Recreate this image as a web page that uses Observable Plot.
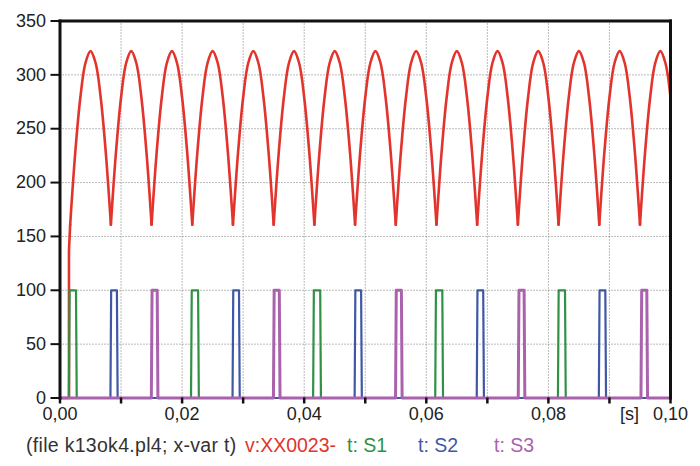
<!DOCTYPE html>
<html>
<head>
<meta charset="utf-8">
<script src="https://cdn.jsdelivr.net/npm/d3@7"></script>
<script src="https://cdn.jsdelivr.net/npm/@observablehq/plot@0.6"></script>
<style>
  html, body { margin: 0; padding: 0; background: #fff; }
  #chart { width: 700px; height: 466px; font-family: "Liberation Sans", Arial, sans-serif; }
  #legend { position: relative; width: 700px; height: 38px; font-size: 19.5px; }
  #legend span { position: absolute; top: 6px; white-space: pre; }
</style>
</head>
<body>
<div id="chart"></div>
<script>
// ---- Axis ticks and labels ----
const xTicks = [0, 0.02, 0.04, 0.06, 0.08, 0.10];
const xTickLabels = ["0,00", "0,02", "0,04", "0,06", "0,08", "0,10"];
const xMinorTicks = [0, 0.01, 0.02, 0.03, 0.04, 0.05, 0.06, 0.07, 0.08, 0.09, 0.10];
const xGridLines = [0.01, 0.02, 0.03, 0.04, 0.05, 0.06, 0.07, 0.08, 0.09];
const yTicks = [0, 50, 100, 150, 200, 250, 300, 350];
const yGridLines = [50, 100, 150, 200, 250, 300];
const xUnit = ["[s]"];

// ---- Legend ----
const fileNote = "(file k13ok4.pl4; x-var t)";
const seriesNames = ["v:XX0023-", "t: S1", "t: S2", "t: S3"];

// ---- Output voltage v:XX0023- ----
// before the first firing the output sits at 0, then jumps onto the phase voltage
const leadInT = [0, 0.00147, 0.00147];
const leadInV = [0, 0, 137];
// sampled every 1/1200 s starting at the first commutation point (t = 1.667 ms)
const voltStart = 0.0016667;
const voltStep = 1 / 1200;
const voltValues = [
  161, 228, 279, 311, 322, 311, 279, 228,
  161, 228, 279, 311, 322, 311, 279, 228,
  161, 228, 279, 311, 322, 311, 279, 228,
  161, 228, 279, 311, 322, 311, 279, 228,
  161, 228, 279, 311, 322, 311, 279, 228,
  161, 228, 279, 311, 322, 311, 279, 228,
  161, 228, 279, 311, 322, 311, 279, 228,
  161, 228, 279, 311, 322, 311, 279, 228,
  161, 228, 279, 311, 322, 311, 279, 228,
  161, 228, 279, 311, 322, 311, 279, 228,
  161, 228, 279, 311, 322, 311, 279, 228,
  161, 228, 279, 311, 322, 311, 279, 228,
  161, 228, 279, 311, 322, 311, 279, 228,
  161, 228, 279, 311, 322, 311, 279, 228,
  161, 228, 279, 311, 322, 311, 279
];
const samplesPerRipple = 8;

// ---- Gate signals (on / off instants, seconds; level 0 or 100) ----
const pulseLevel = 100;
const s1On  = [0.0015, 0.0215, 0.0415, 0.0615, 0.0816];
const s1Off = [0.0027, 0.0227, 0.0427, 0.0627, 0.0828];
const s2On  = [0.0083, 0.0283, 0.0483, 0.0683, 0.0883];
const s2Off = [0.0094, 0.0294, 0.0494, 0.0694, 0.0894];
const s3On  = [0.0150, 0.0350, 0.0550, 0.0751, 0.0952];
const s3Off = [0.0160, 0.0360, 0.0560, 0.0761, 0.0962];

// ---- Colours ----
const colors = {
  volt: "#e2342c",
  s1: "#2f9145",
  s2: "#3f58a6",
  s3: "#ab62ad",
  text: "#222",
  note: "#333",
  grid: "#777"
};

// Build the voltage table; each ripple arc is its own series so the cusps stay sharp
const voltRows = [];
voltValues.forEach((v, i) => {
  const t = voltStart + i * voltStep;
  const seg = Math.floor(i / samplesPerRipple);
  if (i > 0 && i % samplesPerRipple === 0) voltRows.push({t, v, seg: seg - 1});
  voltRows.push({t, v, seg});
});
const leadInRows = leadInT.map((t, i) => ({t, v: leadInV[i]}));
leadInRows.push({t: voltStart, v: voltValues[0]});

// Gate signal as a polyline along 0 with a short ramp on each edge
const ramp = 0.00008;
function pulseRows(on, off) {
  const rows = [{t: 0, v: 0}];
  on.forEach((t0, i) => {
    const t1 = off[i];
    rows.push({t: t0 - ramp / 2, v: 0}, {t: t0 + ramp, v: pulseLevel},
              {t: t1 - ramp, v: pulseLevel}, {t: t1 + ramp / 2, v: 0});
  });
  rows.push({t: 0.1, v: 0});
  return rows;
}

const xLabelOf = new Map(xTicks.map((d, i) => [d, xTickLabels[i]]));
const dotted = {stroke: colors.grid, strokeOpacity: 1, strokeWidth: 1, strokeDasharray: "1,2"};

const plot = Plot.plot({
  width: 700,
  height: 428,
  marginLeft: 59.5,
  marginRight: 30,
  marginTop: 20.5,
  marginBottom: 30.5,
  x: {domain: [0, 0.1]},
  y: {domain: [0, 350]},
  style: {fontFamily: '"Liberation Sans", Arial, sans-serif', fontSize: "18px", color: colors.text, background: "#fff"},
  marks: [
    Plot.gridY(yGridLines, dotted),
    Plot.gridX(xGridLines, dotted),
    Plot.line(leadInRows, {x: "t", y: "v", stroke: colors.volt, strokeWidth: 2.6}),
    Plot.line(voltRows, {x: "t", y: "v", z: "seg", curve: "catmull-rom", stroke: colors.volt, strokeWidth: 2.6}),
    Plot.line(pulseRows(s1On, s1Off), {x: "t", y: "v", stroke: colors.s1, strokeWidth: 2.2}),
    Plot.line(pulseRows(s2On, s2Off), {x: "t", y: "v", stroke: colors.s2, strokeWidth: 2.2}),
    Plot.line(pulseRows(s3On, s3Off), {x: "t", y: "v", stroke: colors.s3, strokeWidth: 3}),
    Plot.frame({stroke: "#111", strokeWidth: 3, anchor: "top"}),
    Plot.frame({stroke: "#111", strokeWidth: 3, anchor: "left"}),
    Plot.frame({stroke: "#111", strokeWidth: 3, anchor: "right"}),
    Plot.axisY(yTicks, {tickSize: 9, tickPadding: 5, strokeWidth: 2, stroke: "#111", fontSize: 18, label: null}),
    Plot.axisX(xMinorTicks, {tickSize: 6, strokeWidth: 2.5, stroke: "#111", tickFormat: () => "", label: null}),
    Plot.axisX(xTicks, {tickSize: 0, tickPadding: 9, fontSize: 18, tickFormat: d => xLabelOf.get(d), label: null}),
    Plot.text(xUnit, {text: d => d, frameAnchor: "bottom-right", dx: -41, dy: 9, lineAnchor: "top", textAnchor: "middle", fontSize: 18, fill: colors.text})
  ]
});

const chart = document.getElementById("chart");
chart.appendChild(plot);

// Legend line under the plot
const legend = document.createElement("div");
legend.id = "legend";
const entries = [
  {text: fileNote, color: colors.note, left: 26, spacing: "0.3px"},
  {text: seriesNames[0], color: colors.volt, left: 245, spacing: "0px"},
  {text: seriesNames[1], color: colors.s1, left: 347, spacing: "0px"},
  {text: seriesNames[2], color: colors.s2, left: 418, spacing: "0px"},
  {text: seriesNames[3], color: colors.s3, left: 494, spacing: "0px"}
];
for (const e of entries) {
  const s = document.createElement("span");
  s.textContent = e.text;
  s.style.color = e.color;
  s.style.left = e.left + "px";
  s.style.letterSpacing = e.spacing;
  legend.appendChild(s);
}
chart.appendChild(legend);
</script>
</body>
</html>
